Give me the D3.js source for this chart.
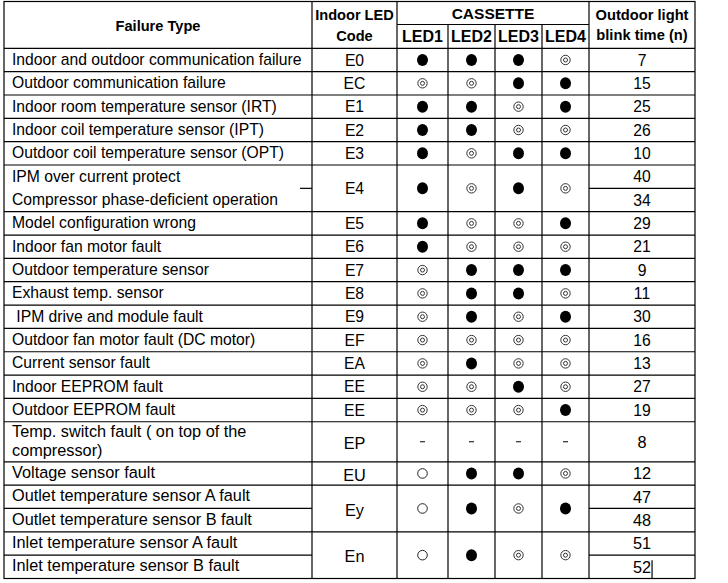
<!DOCTYPE html>
<html><head><meta charset="utf-8">
<script src="https://cdn.jsdelivr.net/npm/d3@7"></script>
<style>html,body{margin:0;padding:0;background:#fff;} svg{display:block;}</style>
</head><body>
<svg id="chart" width="728" height="583"></svg>
<script>
// ---------- DATA ----------
const failureTypes = [
  "Indoor and outdoor communication failure",
  "Outdoor communication failure",
  "Indoor room temperature sensor (IRT)",
  "Indoor coil temperature sensor (IPT)",
  "Outdoor coil temperature sensor (OPT)",
  "IPM over current protect",
  "Compressor phase-deficient operation",
  "Model configuration wrong",
  "Indoor fan motor fault",
  "Outdoor temperature sensor",
  "Exhaust temp. sensor",
  " IPM drive and module fault",
  "Outdoor fan motor fault (DC motor)",
  "Current sensor fault",
  "Indoor EEPROM fault",
  "Outdoor EEPROM fault",
  "Temp. switch fault ( on top of the\ncompressor)",
  "Voltage sensor fault",
  "Outlet temperature sensor A fault",
  "Outlet temperature sensor B fault",
  "Inlet temperature sensor A fault",
  "Inlet temperature sensor B fault"
];
const blinkTimes = [7,15,25,26,10,40,34,29,21,9,11,30,16,13,27,19,8,12,47,48,51,52];
const codes = ["E0","EC","E1","E2","E3","E4","E5","E6","E7","E8","E9","EF","EA","EE","EE","EP","EU","Ey","En"];
const codeSpans = [1,1,1,1,1,2,1,1,1,1,1,1,1,1,1,1,1,2,2];
// on = ●, blink = ◎, off = ○, none = -
const led1 = ["on","blink","on","on","on","on","on","on","blink","blink","blink","blink","blink","blink","blink","none","off","off","off"];
const led2 = ["on","blink","on","on","blink","blink","blink","blink","on","on","on","blink","on","blink","blink","none","on","on","on"];
const led3 = ["on","on","blink","blink","on","on","blink","blink","on","on","blink","blink","blink","on","blink","none","on","blink","blink"];
const led4 = ["blink","on","on","blink","on","blink","on","blink","on","blink","on","blink","blink","blink","on","none","blink","on","blink"];
const ledLabels = ["LED1","LED2","LED3","LED4"];
const headFailure = ["Failure Type"];
const headCode = ["Indoor LED","Code"];
const headGroup = ["CASSETTE"];
const headBlink = ["Outdoor light","blink time (n)"];

// ---------- LAYOUT ----------
const FONT = "'Liberation Sans', Arial, Helvetica, sans-serif";
const colEdges = {left:4, code:312, leds:[397,448,495,542], out:589, right:695};
const topY = 1.5, headMid = 24.5, headBot = 48.3, bottomY = 578.5;
const tallUnit = 40/23.33;
const bodySize = 15.7, tallSize = 16.3;

const svg = d3.select("#chart");
const g = svg.append("g");

// row geometry through a linear scale of row units
const units = failureTypes.map(t => t.split("\n").length > 1 ? tallUnit : 1);
const cum = [0, ...d3.cumsum(units)];
const y = d3.scaleLinear().domain([0, cum[cum.length-1]]).range([headBot, bottomY]);
const rowTop = i => y(cum[i]);
const rowBot = i => y(cum[i+1]);
const rowMid = i => (rowTop(i) + rowBot(i)) / 2;

// LED column scale
const ledLeft = d3.scaleOrdinal().domain(ledLabels).range(colEdges.leds);
const ledRight = d3.scaleOrdinal().domain(ledLabels).range([...colEdges.leds.slice(1), colEdges.out]);
const ledX = k => (ledLeft(k) + ledRight(k)) / 2;

// code groups
const groupStart = [0, ...d3.cumsum(codeSpans)];
const groups = codes.map((c, i) => ({
  code: c, i, start: groupStart[i], end: groupStart[i+1] - 1,
  states: [led1[i], led2[i], led3[i], led4[i]]
}));
const groupOf = r => groups.find(gp => r >= gp.start && r <= gp.end);
const tallFrom = groups.find(gp => gp.code === "EP").start;   // later rows are drawn in a taller face
const sizeFor = r => r >= tallFrom ? tallSize : bodySize;

// ---------- GRID ----------
const lines = g.append("g").attr("stroke", "#000").attr("stroke-width", 1.2).attr("fill", "none");
const L = (x1, y1, x2, y2) => lines.append("line").attr("x1", x1).attr("y1", y1).attr("x2", x2).attr("y2", y2);

lines.append("rect").attr("x", colEdges.left).attr("y", topY)
  .attr("width", colEdges.right - colEdges.left).attr("height", bottomY - topY);
L(colEdges.code, topY, colEdges.code, bottomY);
L(colEdges.leds[0], topY, colEdges.leds[0], bottomY);
colEdges.leds.slice(1).forEach(x => L(x, headMid, x, bottomY));
L(colEdges.out, topY, colEdges.out, bottomY);
L(colEdges.leds[0], headMid, colEdges.out, headMid);
L(colEdges.left, headBot, colEdges.right, headBot);

for (let r = 0; r < failureTypes.length - 1; r++) {
  const yy = rowBot(r);
  const a = groupOf(r), b = groupOf(r + 1);
  if (a !== b) {
    L(colEdges.left, yy, colEdges.right, yy);
  } else {
    if (a.code === "E4") L(colEdges.code - 12, yy, colEdges.code, yy);
    else L(colEdges.left, yy, colEdges.code, yy);
    L(colEdges.out, yy, colEdges.right, yy);
  }
}

// ---------- HEADER TEXT ----------
const txt = g.append("g").attr("font-family", FONT).attr("fill", "#000");
function label(x, yc, s, size, weight, anchor) {
  return txt.append("text").attr("x", x).attr("y", yc + size * 0.355)
    .attr("font-size", size).attr("font-weight", weight || "normal")
    .attr("text-anchor", anchor || "middle").attr("xml:space", "preserve").text(s);
}
label((colEdges.left + colEdges.code) / 2, 26, headFailure[0], 14.6, "bold");
label((colEdges.code + colEdges.leds[0]) / 2, 15, headCode[0], 14.6, "bold");
label((colEdges.code + colEdges.leds[0]) / 2, 36, headCode[1], 14.6, "bold");
label((colEdges.leds[0] + colEdges.out) / 2, 13, headGroup[0], 15.5, "bold");
ledLabels.forEach(k => label(ledX(k), 36.5, k, 16, "bold"));
label((colEdges.out + colEdges.right) / 2, 14.5, headBlink[0], 14.7, "bold");
label((colEdges.out + colEdges.right) / 2, 35, headBlink[1], 14.7, "bold");

// ---------- BODY TEXT ----------
failureTypes.forEach((t, r) => {
  const parts = t.split("\n");
  const s = sizeFor(r);
  const step = 18.6;
  parts.forEach((p, j) => {
    const yc = rowMid(r) - (parts.length - 1) * step / 2 + j * step - (r >= tallFrom ? 1.2 : 0.5);
    label(colEdges.left + 8, yc, p, s, "normal", "start");
  });
});
let lastNum;
blinkTimes.forEach((v, r) => {
  lastNum = label((colEdges.out + colEdges.right) / 2, rowMid(r), String(v), sizeFor(r), "normal");
});
groups.forEach(gp => {
  const yc = (rowTop(gp.start) + rowBot(gp.end)) / 2 + (gp.start >= tallFrom ? 1.5 : 0);
  label((colEdges.code + colEdges.leds[0]) / 2, yc, gp.code, sizeFor(gp.start), "normal");
});
// text caret after the last value
const bb = lastNum.node().getBBox();
L(bb.x + bb.width + 1, rowTop(failureTypes.length - 1) + 5, bb.x + bb.width + 1, bottomY);

// ---------- LED SYMBOLS ----------
const sym = g.append("g");
groups.forEach(gp => {
  const yc = (rowTop(gp.start) + rowBot(gp.end)) / 2;
  gp.states.forEach((st, j) => {
    const cx = ledX(ledLabels[j]);
    if (st === "on") {
      sym.append("ellipse").attr("cx", cx).attr("cy", yc).attr("rx", 5.5).attr("ry", 6).attr("fill", "#000");
    } else if (st === "blink") {
      sym.append("circle").attr("cx", cx).attr("cy", yc).attr("r", 4.7).attr("fill", "none").attr("stroke", "#333").attr("stroke-width", 1);
      sym.append("circle").attr("cx", cx).attr("cy", yc).attr("r", 2).attr("fill", "none").attr("stroke", "#333").attr("stroke-width", 1);
    } else if (st === "off") {
      sym.append("circle").attr("cx", cx).attr("cy", yc).attr("r", 4.8).attr("fill", "none").attr("stroke", "#222").attr("stroke-width", 1);
    } else {
      sym.append("line").attr("x1", cx - 2.5).attr("x2", cx + 2.5).attr("y1", yc).attr("y2", yc).attr("stroke", "#000").attr("stroke-width", 1);
    }
  });
});
</script>
</body></html>
